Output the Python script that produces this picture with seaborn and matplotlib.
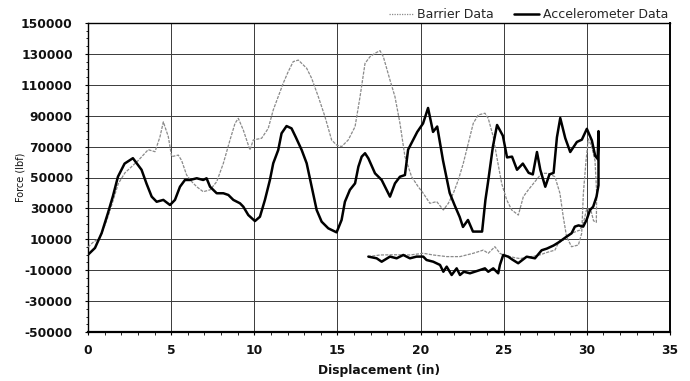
import matplotlib
matplotlib.use("Agg")
import matplotlib.pyplot as plt
import matplotlib.ticker as mticker
from matplotlib.lines import Line2D
import seaborn as sns
import pandas as pd

# ---- Data ----
barrier_x = [0.0, 0.3, 0.72, 1.12, 1.42, 1.82, 2.22, 2.62, 3.02, 3.32, 3.62, 4.03, 4.33, 4.53,
             4.83, 5.03, 5.43, 5.63, 5.93, 6.24, 6.54, 6.93, 7.34, 7.74, 8.14, 8.54, 8.84, 9.04,
             9.34, 9.74, 9.94, 10.44, 10.84, 11.14, 11.44, 11.74, 12.04, 12.34, 12.65, 13.15,
             13.45, 13.85, 14.25, 14.65, 14.95, 15.25, 15.65, 16.06, 16.36, 16.66, 16.96, 17.26,
             17.56, 17.76, 18.16, 18.46, 18.76, 19.06, 19.46, 19.86, 20.16, 20.56, 20.97, 21.37,
             21.67, 21.97, 22.27, 22.57, 22.87, 23.17, 23.47, 23.87, 24.07, 24.37, 24.58, 24.88,
             25.18, 25.48, 25.88, 26.18, 26.48, 26.88, 27.28, 27.68, 28.08, 28.38, 28.58, 28.78,
             29.08, 29.49, 29.69, 29.79, 29.95, 30.09, 30.29, 30.49, 30.59,
             # unloading / return path
             30.57, 30.4, 30.25, 30.0, 29.8, 29.58, 29.08, 28.78, 28.58, 28.28, 28.08, 27.6,
             27.2, 26.8, 26.4, 26.0, 25.7, 25.3, 24.97, 24.77, 24.47, 24.07, 23.77, 23.17,
             22.37, 21.57, 20.76, 20.16, 19.36, 18.5, 17.56, 16.86]
barrier_y = [5000, 8000, 11000, 22000, 32000, 46000, 53000, 57000, 61000, 64500, 68000, 66700,
             76400, 86000, 76400, 63500, 64500, 61000, 51600, 47300, 44000, 40800, 42000, 47300,
             59200, 74300, 85000, 88300, 80700, 67800, 74300, 75400, 81800, 93700, 102300,
             111000, 118500, 125000, 126000, 120700, 114200, 102300, 89400, 74300, 71000, 70000,
             74300, 82900, 102300, 123900, 128200, 130400, 132100, 128200, 113100, 102300, 85100,
             63500, 50500, 44000, 39800, 33300, 34400, 29000, 33300, 39800, 48400, 59200, 72200,
             85100, 90500, 91600, 88300, 76400, 63500, 46000, 35500, 29000, 25700, 37600, 42000,
             47300, 52700, 52700, 50500, 39800, 24600, 11700, 5200, 6300, 13900, 39800, 61000,
             75000, 70000, 61000, 40000,
             21000, 22000, 28500, 30000, 21000, 16000, 13900, 11700, 9500, 7500, 3000, 1500,
             0, -1000, -1500, -2500, -2000, -1000, -150, 950, 5200, 950, 3000, 950,
             -1200, -1200, -150, 950, -150, 0, -150, -1200]

accel_x = [0.0, 0.42, 0.82, 1.2, 1.5, 1.8, 2.2, 2.7, 3.22, 3.52, 3.83, 4.13, 4.53, 4.93, 5.23,
           5.53, 5.83, 6.13, 6.54, 6.93, 7.13, 7.34, 7.74, 8.14, 8.44, 8.74, 9.14, 9.34, 9.64,
           10.04, 10.34, 10.64, 10.94, 11.14, 11.44, 11.64, 11.94, 12.24, 12.5, 12.85, 13.15,
           13.45, 13.75, 14.05, 14.45, 14.95, 15.25, 15.45, 15.75, 16.06, 16.26, 16.46, 16.66,
           16.86, 17.26, 17.66, 18.16, 18.46, 18.76, 19.06, 19.25, 19.8, 20.15, 20.45, 20.75,
           21.0, 21.35, 21.75, 22.05, 22.35, 22.55, 22.85, 23.15, 23.7, 23.9, 24.05, 24.35,
           24.6, 24.95, 25.2, 25.5, 25.8, 26.15, 26.5, 26.75, 27.0, 27.2, 27.5, 27.75, 28.0,
           28.2, 28.4, 28.7, 29.0, 29.4, 29.7, 30.0, 30.3, 30.5, 30.65, 30.7,
           # unloading / return path
           30.7, 30.58, 30.38, 30.19, 29.98, 29.78, 29.5, 29.28, 29.08, 28.78, 28.5, 28.3,
           28.0, 27.6, 27.28, 26.88, 26.38, 25.87, 25.5, 25.27, 24.97, 24.77, 24.67, 24.37,
           24.07, 23.87, 23.57, 22.97, 22.6, 22.37, 22.17, 21.87, 21.57, 21.37, 21.17, 20.76,
           20.36, 20.16, 19.76, 19.36, 18.96, 18.56, 18.16, 17.66, 17.36, 16.86]
accel_y = [0, 4400, 14000, 27000, 38000, 50500, 59000, 62500, 55000, 46000, 37600, 34300,
           35500, 32200, 35500, 44000, 48400, 48400, 49500, 48400, 49500, 44000, 39800, 39800,
           38700, 35500, 33300, 31100, 25700, 21800, 24600, 35500, 48400, 59200, 67800, 78600,
           83300, 81800, 76000, 67800, 59200, 44000, 29000, 21400, 17100, 14500, 22500, 34300,
           42000, 46200, 57000, 63500, 65700, 62400, 52700, 48400, 37600, 46200, 50500, 51600,
           68000, 79500, 85000, 95000, 79500, 83000, 61000, 40000, 32000, 24500, 18000, 22500,
           15000, 15000, 35500, 46500, 70000, 84000, 77000, 63000, 63500, 55000, 59000, 53000,
           52000, 66500, 55000, 44000, 52000, 53000, 76000, 88500, 75500, 66500, 73000, 74500,
           81500, 74000, 64000, 62000, 80000,
           45000, 37600, 31100, 29000, 22500, 18200, 19000, 18200, 13900, 11700, 9500, 8000,
           6000, 4000, 2900, -2300, -1250, -5500, -3000, -1250, -150, -6600, -12000, -8800,
           -11000, -8800, -9900, -12000, -11000, -13100, -8800, -13100, -7700, -11000, -6600,
           -4500, -3400, -1200, -1200, -2300, -150, -2300, -1200, -4500, -2300, -1200]

series_labels = ["Barrier Data", "Accelerometer Data"]
x_ticks = [0, 5, 10, 15, 20, 25, 30, 35]
y_ticks = [-50000, -30000, -10000, 10000, 30000, 50000, 70000, 90000, 110000, 130000, 150000]

barrier_df = pd.DataFrame({"Displacement": barrier_x, "Force": barrier_y})
accel_df = pd.DataFrame({"Displacement": accel_x, "Force": accel_y})

# ---- Styling ----
sns.set_theme(style="white")
plt.rcParams["font.family"] = ["DejaVu Sans"]

fig = plt.figure(figsize=(6.9, 3.81), dpi=100)
ax = fig.add_axes([88 / 690, 1 - 332 / 381, (670 - 88) / 690, (332 - 23) / 381])

sns.lineplot(data=barrier_df, x="Displacement", y="Force", sort=False, estimator=None,
             color="#8a8a8a", linewidth=0.9, linestyle=(0, (2.5, 1)), ax=ax, zorder=3)
sns.lineplot(data=accel_df, x="Displacement", y="Force", sort=False, estimator=None,
             color="black", linewidth=1.8, ax=ax, zorder=4)

ax.set_xlim(0, 35)
ax.set_ylim(-50000, 150000)
ax.set_xticks(x_ticks)
ax.set_yticks(y_ticks)
ax.xaxis.set_minor_locator(mticker.MultipleLocator(1))
ax.yaxis.set_minor_locator(mticker.MultipleLocator(5000))
ax.set_xticklabels([str(t) for t in x_ticks])
ax.set_yticklabels([str(t) for t in y_ticks])

ax.grid(True, which="major", color="#3a3a3a", linewidth=0.7)
ax.set_axisbelow(True)

ax.tick_params(axis="both", which="major", direction="out", length=2.5, width=0.8,
               color="black", labelsize=8.8, labelcolor="#111111")
ax.tick_params(axis="both", which="minor", direction="out", length=1.8, width=0.6,
               color="black")
ax.tick_params(axis="y", which="both", left=True, pad=8.5)
ax.tick_params(axis="x", which="both", bottom=True, pad=6)
for lbl in ax.get_xticklabels() + ax.get_yticklabels():
    lbl.set_fontweight("bold")

for side in ["left", "top", "right"]:
    ax.spines[side].set_color("black")
    ax.spines[side].set_linewidth(1.0)
ax.spines["bottom"].set_color("black")
ax.spines["bottom"].set_linewidth(1.6)
ax.spines["right"].set_linewidth(1.4)

ax.set_xlabel("Displacement (in)", fontsize=8.8, fontweight="bold", color="#111111", labelpad=5)
ax.set_ylabel("Force (lbf)", fontsize=7, color="#111111")
ax.yaxis.set_label_coords(-0.108, 0.5)

handles = [Line2D([], [], color="#8a8a8a", linewidth=0.9, linestyle=(0, (1, 1))),
           Line2D([], [], color="black", linewidth=1.8)]
ax.legend(handles, series_labels, loc="lower right", bbox_to_anchor=(1.0, 1.0),
          ncol=2, frameon=False, borderaxespad=0.05, fontsize=9, handlelength=2.0,
          handletextpad=0.3, columnspacing=1.6, borderpad=0.1)

fig.savefig("out.png", dpi=100)
